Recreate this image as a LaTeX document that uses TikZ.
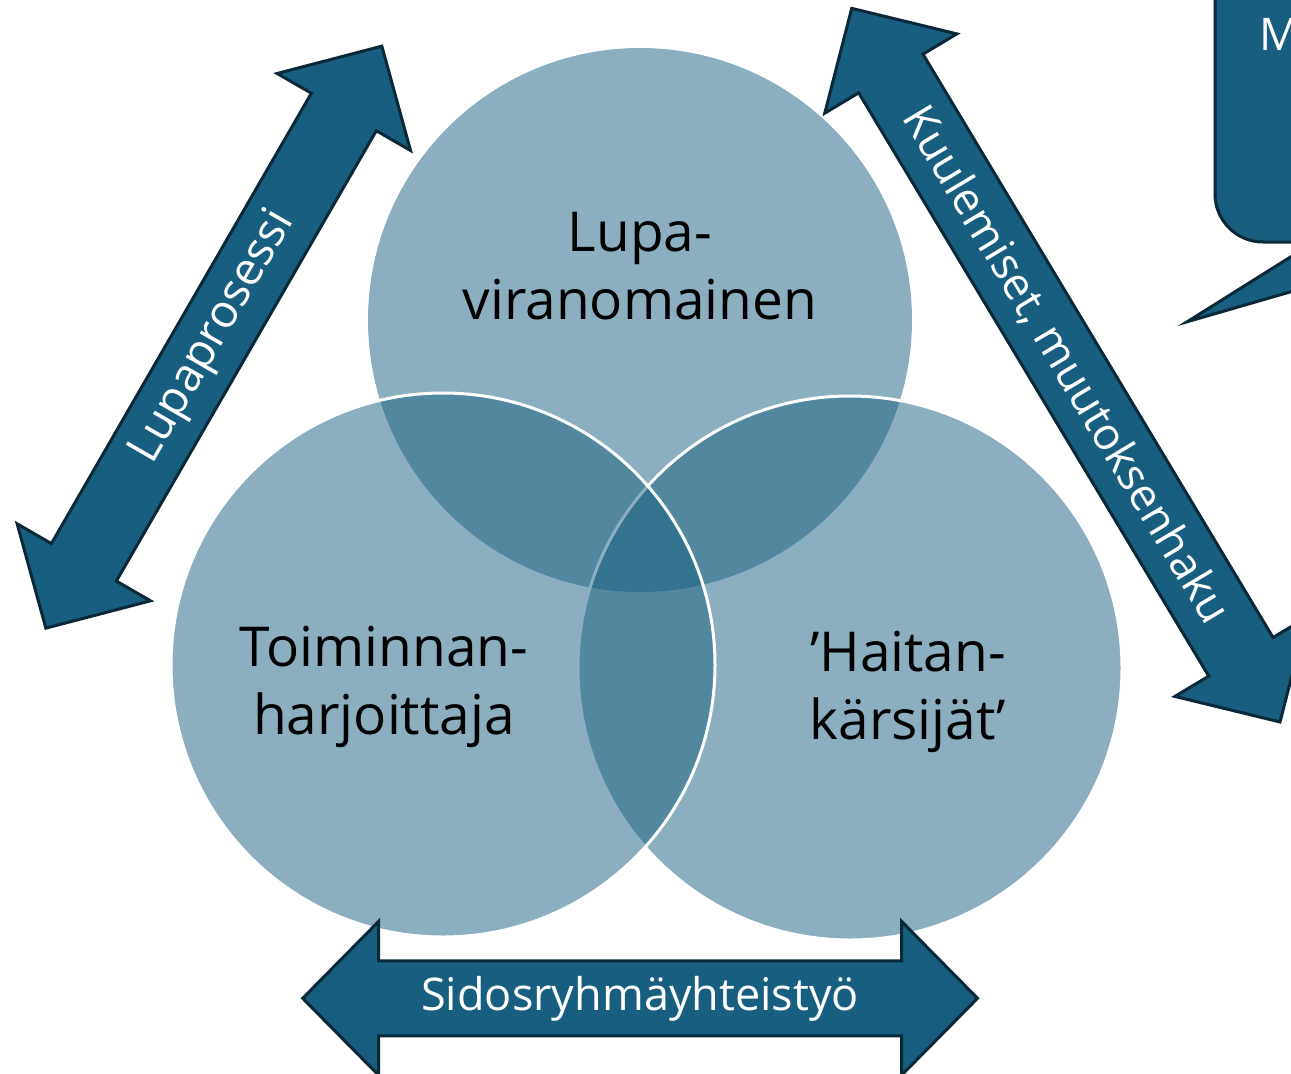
\documentclass[tikz,border=0pt]{standalone}
\usepackage{fontspec}
\setmainfont{Open Sans}
\definecolor{venn}{RGB}{24,96,128}
\definecolor{arrfill}{RGB}{23,94,128}
\definecolor{arrline}{RGB}{10,40,56}
\tikzset{
  vennc/.style={circle, minimum size=544pt, inner sep=0pt, fill=venn, fill opacity=0.5},
  vennw/.style={vennc, draw=white, draw opacity=1, line width=3pt},
  arrowshape/.style={fill=arrfill, draw=arrline, line width=3pt, line join=miter},
  arrowtext/.style={text=white, font=\fontsize{46}{55}\selectfont, inner sep=0pt},
  circtext/.style={text=black, font=\fontsize{55}{68}\selectfont, align=center, inner sep=0pt},
}
\newcommand{\dblarrow}[5]{%
  \begin{scope}[shift={(#2,#3)}, rotate=#4]
    \pgfmathsetmacro{\ha}{#5/2}
    \pgfmathsetmacro{\hb}{#5/2-76}
    \draw[arrowshape] (-\ha,0) -- (-\hb,77) -- (-\hb,37.5) -- (\hb,37.5) -- (\hb,77) -- (\ha,0)
      -- (\hb,-77) -- (\hb,-37.5) -- (-\hb,-37.5) -- (-\hb,-77) -- cycle;
    \coordinate (#1) at (0,0);
  \end{scope}}
\begin{document}
\begin{tikzpicture}[x=1pt, y=-1pt]
\useasboundingbox (0,0) rectangle (1291,1074);
\clip (0,0) rectangle (1291,1074);
% Venn circles
\node[vennc] (ctop) at (640,320) {};
\node[vennw] (cright) at (850,668) {};
\node[vennw] (cleft) at (443,665) {};
% arrows
\dblarrow{aleft}{213.85}{337.15}{60}{672}
\dblarrow{aright}{1065.85}{365.15}{-59.03}{832.3}
\dblarrow{abottom}{640.1}{998.3}{0}{674.8}
% callout
\draw[arrowshape] (1215,-60) -- (1215,194) arc[start angle=180, end angle=90, radius=48]
  -- (1314.4,242) -- (1187.3,321.7) -- (1462.8,242) -- (1500,242) -- (1500,-60) -- cycle;
\node[anchor=base west, text=white, font=\fontsize{45}{54}\selectfont, inner sep=0pt] (callt) at (1259,50) {M};
% arrow labels
\node[arrowtext, rotate=60] (tleft) at (aleft) {Lupaprosessi};
\node[arrowtext, rotate=-59.03, font=\fontsize{44.5}{53}\selectfont] (tright) at (aright) {Kuulemiset, muutoksenhaku};
\node[arrowtext, font=\fontsize{45}{54}\selectfont] (tbottom) at (abottom) {Sidosryhmäyhteistyö};
% circle labels
\node[circtext] (ltop) at (640,266.5) {Lupa-\\viranomainen};
\node[circtext] (lleft) at (384,687) {Toiminnan-\\harjoittaja};
\node[circtext] (lright) at (908,692) {’Haitan-\\kärsijät’};
\end{tikzpicture}
\end{document}
